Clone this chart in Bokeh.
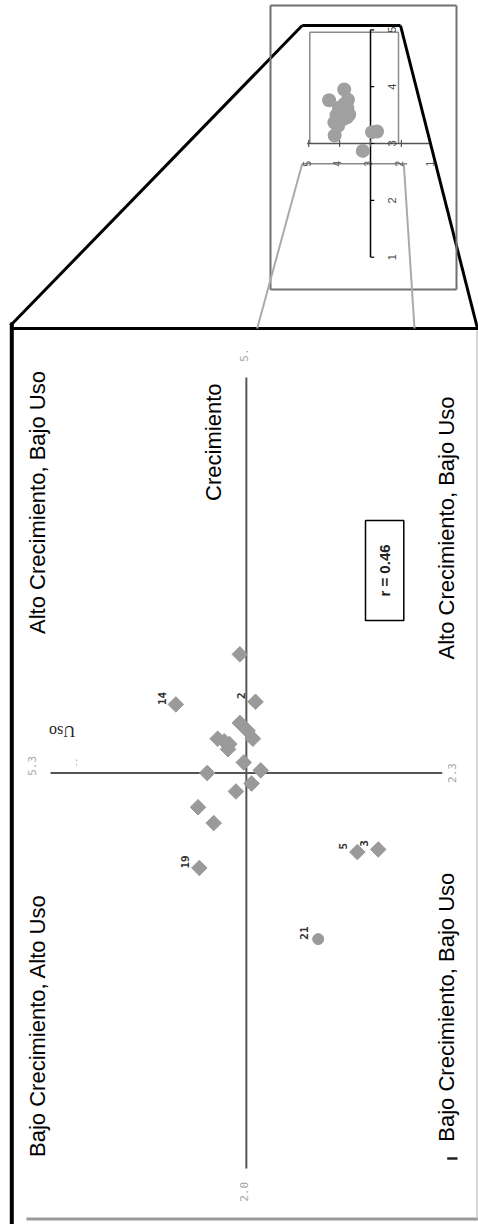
import numpy as np
from bokeh.plotting import figure
from bokeh.models import Range1d, ColumnDataSource
from bokeh.core.properties import value
from bokeh.embed import file_html
from bokeh.resources import INLINE

# ---------------- data ----------------
uso = [3.85, 4.34, 3.73, 3.85, 3.79, 3.75, 4.02, 3.97, 3.93, 3.94, 3.82,
       4.10, 3.69, 3.76, 3.88, 4.17, 4.05, 4.16, 2.95, 2.79, 3.25]
crec = [3.95, 3.76, 3.77, 3.69, 3.66, 3.63, 3.63, 3.62, 3.61, 3.59, 3.54,
        3.50, 3.51, 3.46, 3.43, 3.37, 3.31, 3.14, 3.20, 3.21, 2.87]
ids = ["", "14", "2", "", "", "", "", "", "", "", "",
       "", "", "", "", "", "", "19", "5", "3", "21"]
markers = ["square"] * 20 + ["circle"]

uso_axis = [5.3, 2.3]          # ends of the Uso axis
crec_axis = [2.0, 5.0]         # ends of the Crecimiento axis
uso_tick_labels = ["5.3", "2.3"]
crec_tick_labels = ["2.0", "5."]
r_text = "r = 0.46"
quad_labels = ["Alto Crecimiento, Bajo Uso", "Alto Crecimiento, Bajo Uso",
               "Bajo Crecimiento, Alto Uso", "Bajo Crecimiento, Bajo Uso"]
inset_ticks = [1, 2, 3, 4, 5]
inset_tick_labels = ["1", "2", "3", "4", "5"]

# ---------------- figure ----------------
W, H = 478, 1224
p = figure(width=W, height=H, x_range=Range1d(5.6829, 2.0221),
           y_range=Range1d(1.7876, 6.4297), x_axis_type=None, y_axis_type=None,
           toolbar_location=None, output_backend="svg", min_border=0)
p.outline_line_color = None
p.grid.visible = False
p.background_fill_color = "white"
p.border_fill_color = "white"

# pixel space (image coords) for decoration
p.extra_x_ranges["px"] = Range1d(0, 478)
p.extra_y_ranges["px"] = Range1d(1224, 0)
# inset data space
p.extra_x_ranges["inx"] = Range1d(14.974, -0.495)
p.extra_y_ranges["iny"] = Range1d(-16.015, 5.5154)

ROT = np.pi / 2
font = value("Liberation Sans")

def seg(x0, y0, x1, y1, color="black", w=2.0):
    p.segment(x0=[x0], y0=[y0], x1=[x1], y1=[y1], line_color=color, line_width=w,
              x_range_name="px", y_range_name="px")

# frame decoration
seg(11.3, 322, 11.3, 1224, "black", 4)
seg(10, 328, 478, 328, "black", 3)
seg(26, 1218.5, 478, 1218.5, "#9a9a9a", 3)
seg(476.5, 330, 476.5, 1218, "#c8c8c8", 1.5)
seg(10, 325, 301.7, 25, "black", 3)
seg(301.7, 25, 400, 25, "black", 3)
seg(400, 25, 477, 328, "black", 3)
# inset outer rect
seg(270, 5, 456, 5, "#707070", 2)
seg(270, 289, 456, 289, "#707070", 2)
seg(270, 5, 270, 289, "#707070", 2)
seg(456, 5, 456, 289, "#707070", 2)
# inset inner rect
seg(309.3, 31.7, 398, 31.7, "#8a8a8a", 1.5)
seg(309.3, 31.7, 309.3, 143, "#8a8a8a", 1.5)
seg(398, 31.7, 398, 143, "#8a8a8a", 1.5)
seg(301.7, 163.3, 406.7, 163.3, "#8a8a8a", 1.5)
seg(301.7, 163.3, 256.7, 328, "#aaaaaa", 2)
seg(403.3, 163.3, 414, 328, "#aaaaaa", 2)
seg(446.7, 1158, 457, 1158, "#222222", 2.5)

# ---------------- inset (same data, small scale) ----------------
p.segment(x0=[3], y0=[inset_ticks[0]], x1=[3], y1=[inset_ticks[-1]],
          line_color="black", line_width=1.5, x_range_name="inx", y_range_name="iny")
p.segment(x0=[inset_ticks[-1] + 0.05], y0=[3], x1=[inset_ticks[0] + 0.1], y1=[3],
          line_color="#555555", line_width=1.5, x_range_name="inx", y_range_name="iny")
it = np.array(inset_ticks, dtype=float)
p.segment(x0=[3] * 5, y0=it, x1=[2.88] * 5, y1=it, line_color="black", line_width=1.2,
          x_range_name="inx", y_range_name="iny")
p.segment(x0=it[1:], y0=[3.06] * 4, x1=it[1:], y1=[2.94] * 4, line_color="#555555",
          line_width=1.2, x_range_name="inx", y_range_name="iny")
p.scatter(x=uso, y=crec, size=14, marker="circle", fill_color="#a0a0a0",
          line_color=None, x_range_name="inx", y_range_name="iny")
p.text(x=[2.3] * 5, y=it, text=inset_tick_labels, angle=ROT, text_align="center",
       text_baseline="middle", text_font=font, text_font_size="11px", text_color="#444444",
       x_range_name="inx", y_range_name="iny")
p.text(x=it + 0.07, y=[2.645] * 5, text=inset_tick_labels, angle=ROT, text_align="center",
       text_baseline="middle", text_font=font, text_font_size="10px", text_color="#555555",
       x_range_name="inx", y_range_name="iny")

# ---------------- main chart ----------------
umid = sum(uso_axis) / 2
cmid = sum(crec_axis) / 2
p.segment(x0=[umid], y0=[crec_axis[0]], x1=[umid], y1=[crec_axis[1]],
          line_color="#555555", line_width=2)
p.segment(x0=[uso_axis[0]], y0=[cmid], x1=[uso_axis[1]], y1=[cmid],
          line_color="#555555", line_width=2)

# tick labels at axis ends
ux_pad = 18 / 130.57
cy_pad = 22 / 263.67
p.text(x=[uso_axis[0] + ux_pad, uso_axis[1] - 10 / 130.57], y=[cmid + 0.027, cmid],
       text=uso_tick_labels, angle=ROT, text_align="center", text_baseline="middle",
       text_font=value("DejaVu Sans Mono"), text_font_size="11px", text_color="#a8a8a8")
p.text(x=[umid + 0.02, umid + 0.02], y=[crec_axis[0] - cy_pad - 0.005, crec_axis[1] + 0.085],
       text=crec_tick_labels, angle=ROT, text_align="center", text_baseline="middle",
       text_font=value("DejaVu Sans Mono"), text_font_size="11px", text_color="#a8a8a8")

src = ColumnDataSource(dict(x=uso, y=crec, m=markers, t=ids,
                            lx=[u + 14 / 130.57 for u in uso],
                            ly=[c + 6 / 263.67 for c in crec]))
p.scatter(x="x", y="y", marker="m", size=11, angle=np.pi / 4, fill_color="#9a9a9a",
          line_color="#9a9a9a", line_width=1, source=src)
p.text(x="lx", y="ly", text="t", angle=ROT, text_align="center", text_baseline="middle",
       text_font=value("DejaVu Sans Mono"), text_font_style="bold", text_font_size="11px",
       text_color="#333333", source=src)

# quadrant labels and axis labels (pixel space)
p.text(x=[37, 446, 37, 446], y=[502, 527.5, 1025, 1006.7], text=quad_labels, angle=ROT,
       text_align="center", text_baseline="middle", text_font=font, text_font_size="22px",
       text_color="black", x_range_name="px", y_range_name="px")
p.text(x=[213], y=[441.7], text=["Crecimiento"], angle=ROT, text_align="center",
       text_baseline="middle", text_font=font, text_font_size="22px", text_color="black",
       x_range_name="px", y_range_name="px")
p.text(x=[61.5], y=[731], text=["Uso"], angle=np.pi, text_align="center",
       text_baseline="middle", text_font=value("Liberation Serif"), text_font_size="16px",
       text_color="#222222", x_range_name="px", y_range_name="px")
p.text(x=[75], y=[762], text=["- -"], angle=ROT, text_align="center",
       text_baseline="middle", text_font=font, text_font_size="7px", text_color="#777777",
       x_range_name="px", y_range_name="px")

# r box
p.quad(left=[365], right=[403.3], top=[520], bottom=[620], fill_color=None,
       line_color="black", line_width=1.5, x_range_name="px", y_range_name="px")
p.text(x=[384], y=[570], text=[r_text], angle=ROT, text_align="center",
       text_baseline="middle", text_font=font, text_font_style="bold",
       text_font_size="15px", text_color="#222222", x_range_name="px", y_range_name="px")

open("out.html", "w").write(file_html(p, INLINE))
